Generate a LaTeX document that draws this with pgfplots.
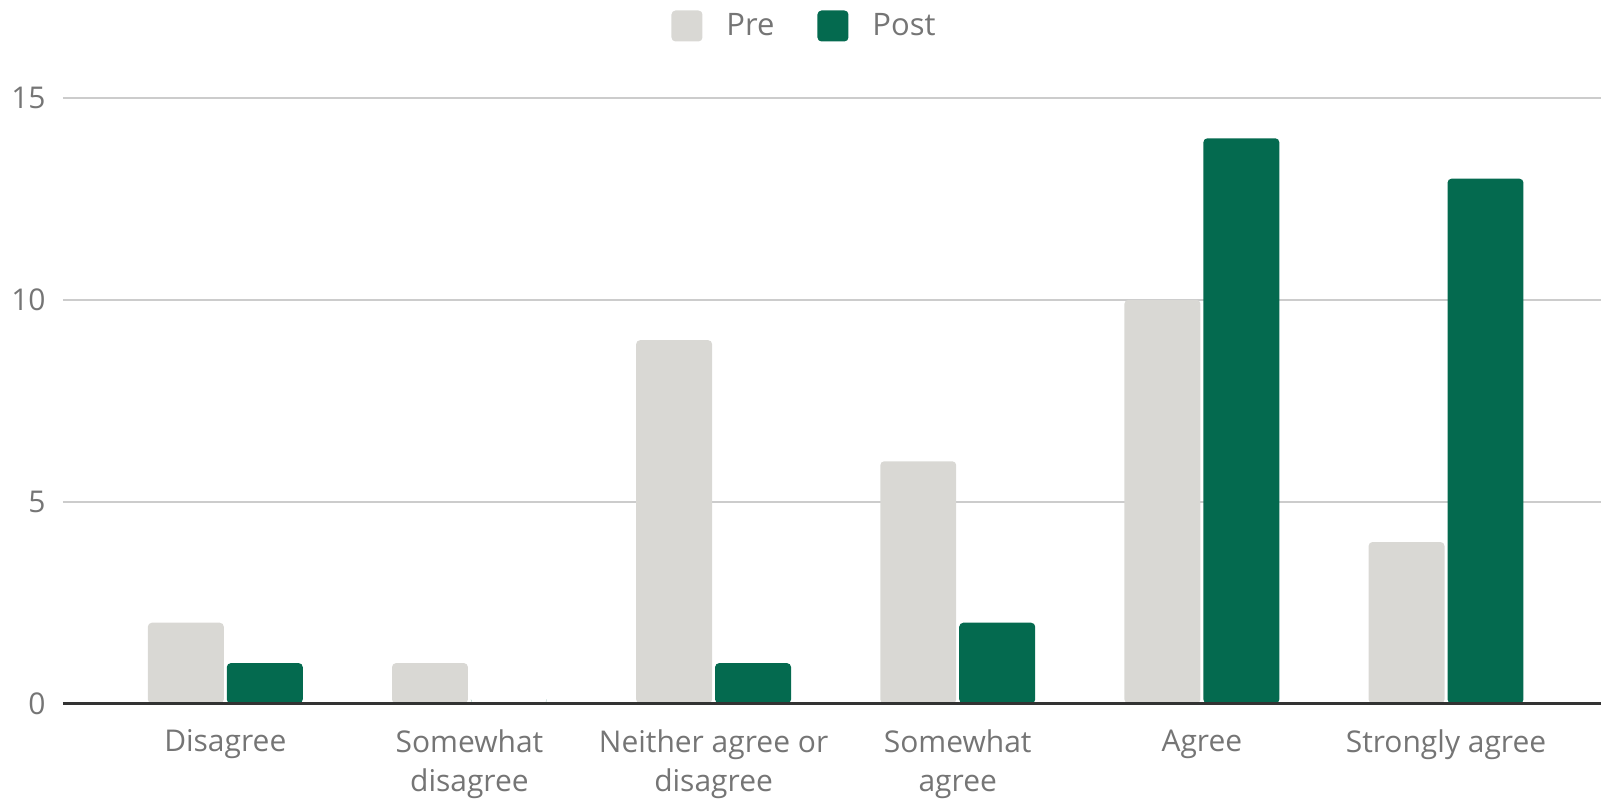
\documentclass[border=0pt]{standalone}
\usepackage{pgfplots}
\pgfplotsset{compat=1.18}
\usepackage{fontspec}
\setmainfont{Open Sans}

\definecolor{preclr}{HTML}{D9D8D4}
\definecolor{postclr}{HTML}{046A4F}
\definecolor{txtclr}{HTML}{757575}
\definecolor{gridclr}{HTML}{CCCCCC}
\definecolor{axisclr}{HTML}{333333}

\begin{document}
\begin{tikzpicture}
\path (0,0) rectangle (801pt,399.5pt);
\begin{axis}[
    set layers,
    axis on top,
    scale only axis,
    width=769.5pt, height=303pt,
    at={(31.5pt,47.5pt)}, anchor=south west,
    ybar=1.5pt,
    bar width=38pt,
    xmin=-0.665, xmax=5.634,
    ymin=0, ymax=15,
    xtick=data,
    xticklabels={Disagree, {Somewhat\\disagree}, {Neither agree or\\disagree}, {Somewhat\\agree}, Agree, Strongly agree},
    ytick={0,5,10,15},
    axis x line*=bottom,
    axis y line*=left,
    y axis line style={draw=none},
    x axis line style={draw=axisclr, line width=1.2pt},
    major tick length=0pt,
    ymajorgrids=true,
    major grid style={draw=gridclr, line width=1pt, /pgfplots/on layer=axis background},
    /pgf/number format/assume math mode=true,
    tick label style={font=\fontsize{15}{19.5}\selectfont, text=txtclr, inner sep=0pt},
    xticklabel style={anchor=north, align=center, yshift=-13pt},
    yticklabel style={anchor=east, xshift=-8.5pt},
    legend image code/.code={\fill[#1,/tikz/.cd,draw=none,rounded corners=2pt] (0pt,-7.75pt) rectangle (15.5pt,7.75pt);},
    legend style={
        at={(0.3957,1.1188)}, anchor=west,
        draw=none, fill=none, inner sep=0pt, outer sep=0pt,
        legend columns=-1,
        font=\fontsize{15.5}{18}\selectfont, text=txtclr,
        cells={anchor=west},
        nodes={inner sep=0pt},
        /tikz/every odd column/.append style={column sep=12pt},
        /tikz/every even column/.append style={column sep=21.5pt},
    },
    every axis plot/.append style={draw=none, rounded corners=2pt},
]
\addplot[fill=preclr] coordinates {(0,2) (1,1) (2,9) (3,6) (4,10) (5,4)};
\addlegendentry{Pre}
\addplot[fill=postclr] coordinates {(0,1) (1,0) (2,1) (3,2) (4,14) (5,13)};
\addlegendentry{Post}
\end{axis}
\end{tikzpicture}
\end{document}
